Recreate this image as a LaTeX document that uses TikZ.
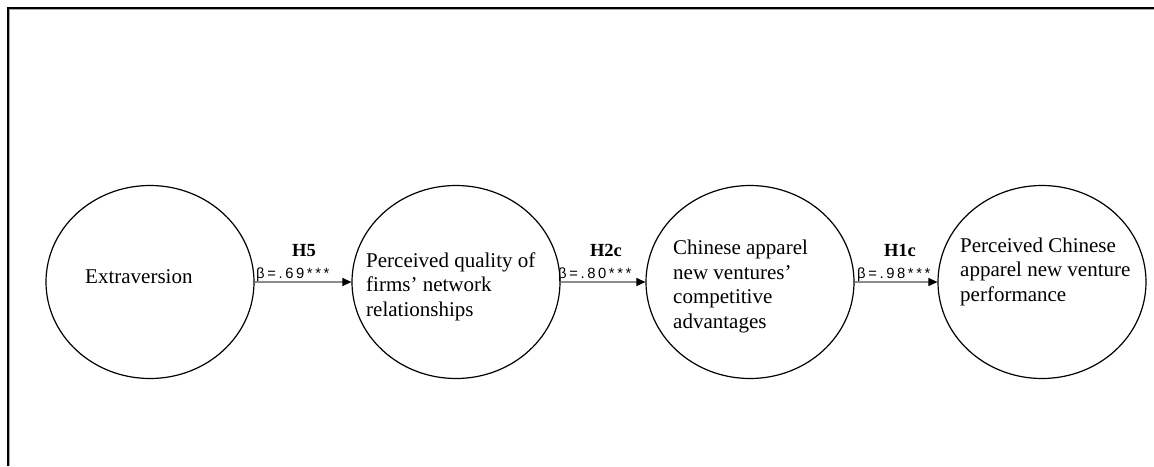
\documentclass[tikz,border=0pt]{standalone}
\usepackage{fontspec}
\setmainfont{Liberation Serif}
\setsansfont{Liberation Sans}
\usetikzlibrary{arrows.meta,shapes.geometric}

% widely tracked coefficient labels
\newcommand\gp{\kern2.6pt}
\newcommand\coefval[2]{β\gp=\gp.\gp#1\gp#2\gp*\gp*\gp*}

\begin{document}
\begin{tikzpicture}[x=1pt,y=-1pt,
  construct/.style={draw, ellipse, line width=1.2pt, minimum width=208pt,
    minimum height=193pt, inner sep=0pt},
  ctext/.style={anchor=base west, align=left, inner sep=0pt,
    font=\fontsize{21}{24.5}\selectfont},
  link/.style={draw=black!45, line width=1.1pt,
    -{Triangle[length=9pt,width=8pt,color=black,fill=black]}},
  hyp/.style={anchor=base, inner sep=0pt, font=\fontsize{18.5}{20}\selectfont\bfseries},
  coef/.style={anchor=base west, inner sep=0pt, font=\sffamily\fontsize{14.8}{16}\selectfont}]

\useasboundingbox (0,0) rectangle (1154,466);

% frame: top and left edges with a soft shadow
\draw[black!35, line width=1pt] (1154,9.6) -- (9.6,9.6) -- (9.6,466);
\draw[black, line width=2pt] (1154,7.5) -- (7.5,7.5) -- (7.5,466);

% constructs
\node[construct] (ext)  at (150,282)  {};
\node[construct] (net)  at (456,282)  {};
\node[construct] (adv)  at (750,282)  {};
\node[construct] (perf) at (1042,282) {};

% construct labels, positioned by the baseline of their last line
\node[ctext] (extT)  at (85,283)  {Extraversion};
\node[ctext] (netT)  at (366,316) {Perceived quality of\\firms’ network\\relationships};
\node[ctext] (advT)  at (673,328) {Chinese apparel\\new ventures’\\competitive\\advantages};
\node[ctext] (perfT) at (960,301) {Perceived Chinese\\apparel new venture\\performance};

% structural paths
\draw[link] (ext) -- (net);
\draw[link] (net) -- (adv);
\draw[link] (adv) -- (perf);

% hypotheses and coefficients
\node[hyp]  (h5)  at (304,256) {H5};
\node[coef] (b5)  at (256,278) {\coefval69};
\node[hyp]  (h2c) at (606,256) {H2c};
\node[coef] (b2c) at (558,278) {\coefval80};
\node[hyp]  (h1c) at (900,256) {H1c};
\node[coef] (b1c) at (857,278) {\coefval98};
\end{tikzpicture}
\end{document}
